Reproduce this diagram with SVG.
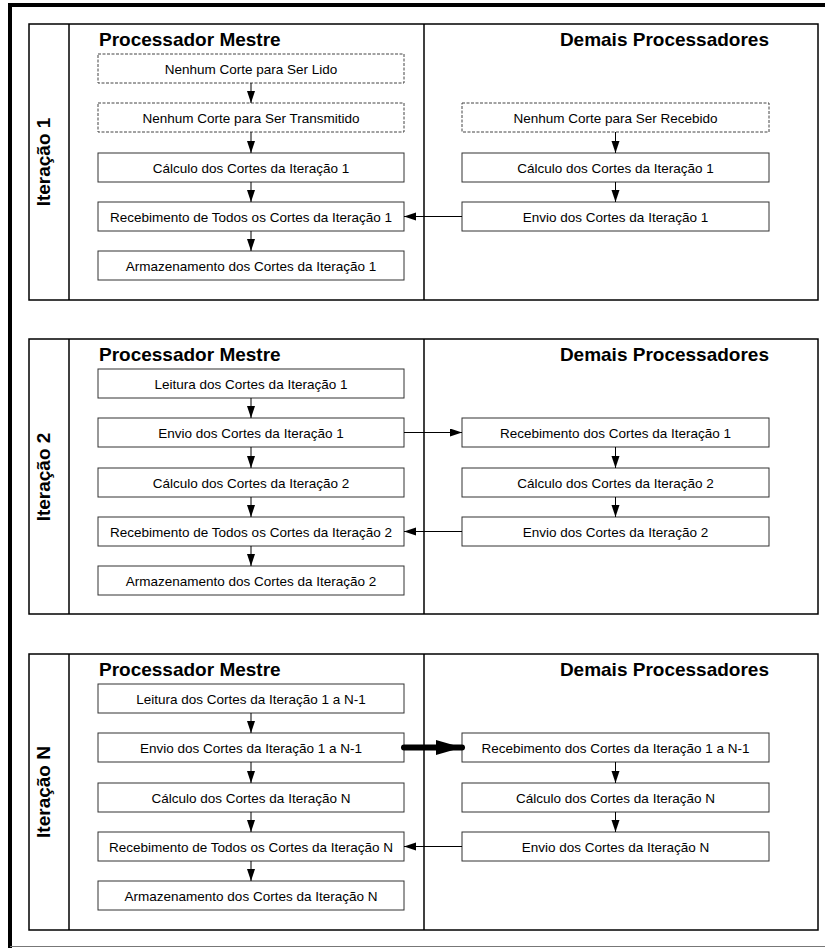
<svg xmlns="http://www.w3.org/2000/svg" width="825" height="948" viewBox="0 0 825 948">
<defs>
<style>
.frame{fill:none;stroke:#000;stroke-width:1.5}
.box{fill:#fff;stroke:#333;stroke-width:1}
.dash{fill:#fff;stroke:#444;stroke-width:1;stroke-dasharray:3,1.5}
.t{font-family:"Liberation Sans",Arial,sans-serif;font-size:13.5px;text-anchor:middle;fill:#000}
.title{font-family:"Liberation Sans",Arial,sans-serif;font-size:19px;font-weight:bold;fill:#000}
.lbl{font-family:"Liberation Sans",Arial,sans-serif;font-size:19px;font-weight:bold;fill:#000;text-anchor:middle}
.c{stroke:#000;stroke-width:1;fill:none}
.ck{stroke:#000;stroke-width:6;fill:none}
</style>
<marker id="ah" markerUnits="userSpaceOnUse" markerWidth="13" markerHeight="9" refX="12" refY="4" orient="auto">
<path d="M0,0 L12,4 L0,8 z" fill="#000"/>
</marker>
<marker id="ahk" markerUnits="userSpaceOnUse" markerWidth="27" markerHeight="16" refX="26" refY="7.5" orient="auto">
<path d="M0,0 L26,7.5 L0,15 z" fill="#000"/>
</marker>
</defs>
<rect width="825" height="948" fill="#fff"/>
<!-- outer frame -->
<line x1="8" y1="5" x2="825" y2="5" stroke="#000" stroke-width="4"/>
<line x1="10" y1="3" x2="10" y2="948" stroke="#000" stroke-width="4"/>
<line x1="10" y1="946.5" x2="825" y2="946.5" stroke="#777" stroke-width="1.2"/>

<!-- Section 1 -->
<g id="sec1">
<rect class="frame" x="29" y="24" width="789" height="276"/>
<line class="frame" x1="69" y1="24" x2="69" y2="300"/>
<line class="frame" x1="424" y1="24" x2="424" y2="300"/>
<text class="lbl" transform="translate(50,162) rotate(-90)">Iteração 1</text>
<text class="title" x="99" y="45.5">Processador Mestre</text>
<text class="title" x="769" y="45.5" text-anchor="end">Demais Processadores</text>
</g>
<g id="s1m1"><rect class="dash" x="98" y="54" width="306" height="29"/><text class="t" x="251" y="73.5">Nenhum Corte para Ser Lido</text></g>
<g id="s1m2"><rect class="dash" x="98" y="103" width="306" height="29"/><text class="t" x="251" y="122.5">Nenhum Corte para Ser Transmitido</text></g>
<g id="s1m3"><rect class="box" x="98" y="153" width="306" height="29"/><text class="t" x="251" y="172.5">Cálculo dos Cortes da Iteração 1</text></g>
<g id="s1m4"><rect class="box" x="98" y="202" width="306" height="29"/><text class="t" x="251" y="221.5">Recebimento de Todos os Cortes da Iteração 1</text></g>
<g id="s1m5"><rect class="box" x="98" y="251" width="306" height="29"/><text class="t" x="251" y="270.5">Armazenamento dos Cortes da Iteração 1</text></g>
<g id="s1d2"><rect class="dash" x="462" y="103" width="307" height="29"/><text class="t" x="615.5" y="122.5">Nenhum Corte para Ser Recebido</text></g>
<g id="s1d3"><rect class="box" x="462" y="153" width="307" height="29"/><text class="t" x="615.5" y="172.5">Cálculo dos Cortes da Iteração 1</text></g>
<g id="s1d4"><rect class="box" x="462" y="202" width="307" height="29"/><text class="t" x="615.5" y="221.5">Envio dos Cortes da Iteração 1</text></g>

<!-- Section 2 -->
<g id="sec2">
<rect class="frame" x="29" y="339" width="789" height="275"/>
<line class="frame" x1="69" y1="339" x2="69" y2="614"/>
<line class="frame" x1="424" y1="339" x2="424" y2="614"/>
<text class="lbl" transform="translate(50,477) rotate(-90)">Iteração 2</text>
<text class="title" x="99" y="360.5">Processador Mestre</text>
<text class="title" x="769" y="360.5" text-anchor="end">Demais Processadores</text>
</g>
<g id="s2m1"><rect class="box" x="98" y="369" width="306" height="29"/><text class="t" x="251" y="388.5">Leitura dos Cortes da Iteração 1</text></g>
<g id="s2m2"><rect class="box" x="98" y="418" width="306" height="29"/><text class="t" x="251" y="437.5">Envio dos Cortes da Iteração 1</text></g>
<g id="s2m3"><rect class="box" x="98" y="468" width="306" height="29"/><text class="t" x="251" y="487.5">Cálculo dos Cortes da Iteração 2</text></g>
<g id="s2m4"><rect class="box" x="98" y="517" width="306" height="29"/><text class="t" x="251" y="536.5">Recebimento de Todos os Cortes da Iteração 2</text></g>
<g id="s2m5"><rect class="box" x="98" y="566" width="306" height="29"/><text class="t" x="251" y="585.5">Armazenamento dos Cortes da Iteração 2</text></g>
<g id="s2d2"><rect class="box" x="462" y="418" width="307" height="29"/><text class="t" x="615.5" y="437.5">Recebimento dos Cortes da Iteração 1</text></g>
<g id="s2d3"><rect class="box" x="462" y="468" width="307" height="29"/><text class="t" x="615.5" y="487.5">Cálculo dos Cortes da Iteração 2</text></g>
<g id="s2d4"><rect class="box" x="462" y="517" width="307" height="29"/><text class="t" x="615.5" y="536.5">Envio dos Cortes da Iteração 2</text></g>

<!-- Section 3 -->
<g id="sec3">
<rect class="frame" x="29" y="654" width="789" height="276"/>
<line class="frame" x1="69" y1="654" x2="69" y2="930"/>
<line class="frame" x1="424" y1="654" x2="424" y2="930"/>
<text class="lbl" transform="translate(50,792) rotate(-90)">Iteração N</text>
<text class="title" x="99" y="675.5">Processador Mestre</text>
<text class="title" x="769" y="675.5" text-anchor="end">Demais Processadores</text>
</g>
<g id="s3m1"><rect class="box" x="98" y="684" width="306" height="29"/><text class="t" x="251" y="703.5">Leitura dos Cortes da Iteração 1 a N-1</text></g>
<g id="s3m2"><rect class="box" x="98" y="733" width="306" height="29"/><text class="t" x="251" y="752.5">Envio dos Cortes da Iteração 1 a N-1</text></g>
<g id="s3m3"><rect class="box" x="98" y="783" width="306" height="29"/><text class="t" x="251" y="802.5">Cálculo dos Cortes da Iteração N</text></g>
<g id="s3m4"><rect class="box" x="98" y="832" width="306" height="29"/><text class="t" x="251" y="851.5">Recebimento de Todos os Cortes da Iteração N</text></g>
<g id="s3m5"><rect class="box" x="98" y="881" width="306" height="29"/><text class="t" x="251" y="900.5">Armazenamento dos Cortes da Iteração N</text></g>
<g id="s3d2"><rect class="box" x="462" y="733" width="307" height="29"/><text class="t" x="615.5" y="752.5">Recebimento dos Cortes da Iteração 1 a N-1</text></g>
<g id="s3d3"><rect class="box" x="462" y="783" width="307" height="29"/><text class="t" x="615.5" y="802.5">Cálculo dos Cortes da Iteração N</text></g>
<g id="s3d4"><rect class="box" x="462" y="832" width="307" height="29"/><text class="t" x="615.5" y="851.5">Envio dos Cortes da Iteração N</text></g>

<!-- connectors -->
<g id="connectors">
<line class="c" x1="251" y1="83" x2="251" y2="103" marker-end="url(#ah)"/>
<line class="c" x1="251" y1="132" x2="251" y2="153" marker-end="url(#ah)"/>
<line class="c" x1="251" y1="182" x2="251" y2="202" marker-end="url(#ah)"/>
<line class="c" x1="251" y1="231" x2="251" y2="251" marker-end="url(#ah)"/>
<line class="c" x1="615.5" y1="132" x2="615.5" y2="153" marker-end="url(#ah)"/>
<line class="c" x1="615.5" y1="182" x2="615.5" y2="202" marker-end="url(#ah)"/>
<line class="c" x1="462" y1="216.5" x2="404" y2="216.5" marker-end="url(#ah)"/>

<line class="c" x1="251" y1="398" x2="251" y2="418" marker-end="url(#ah)"/>
<line class="c" x1="251" y1="447" x2="251" y2="468" marker-end="url(#ah)"/>
<line class="c" x1="251" y1="497" x2="251" y2="517" marker-end="url(#ah)"/>
<line class="c" x1="251" y1="546" x2="251" y2="566" marker-end="url(#ah)"/>
<line class="c" x1="615.5" y1="447" x2="615.5" y2="468" marker-end="url(#ah)"/>
<line class="c" x1="615.5" y1="497" x2="615.5" y2="517" marker-end="url(#ah)"/>
<line class="c" x1="404" y1="432.5" x2="462" y2="432.5" marker-end="url(#ah)"/>
<line class="c" x1="462" y1="531.5" x2="404" y2="531.5" marker-end="url(#ah)"/>

<line class="c" x1="251" y1="713" x2="251" y2="733" marker-end="url(#ah)"/>
<line class="c" x1="251" y1="762" x2="251" y2="783" marker-end="url(#ah)"/>
<line class="c" x1="251" y1="812" x2="251" y2="832" marker-end="url(#ah)"/>
<line class="c" x1="251" y1="861" x2="251" y2="881" marker-end="url(#ah)"/>
<line class="c" x1="615.5" y1="762" x2="615.5" y2="783" marker-end="url(#ah)"/>
<line class="c" x1="615.5" y1="812" x2="615.5" y2="832" marker-end="url(#ah)"/>
<line class="ck" x1="404" y1="747.5" x2="462" y2="747.5" stroke-linecap="round" marker-end="url(#ahk)"/>
<line class="c" x1="462" y1="846.5" x2="404" y2="846.5" marker-end="url(#ah)"/>
</g>
</svg>
